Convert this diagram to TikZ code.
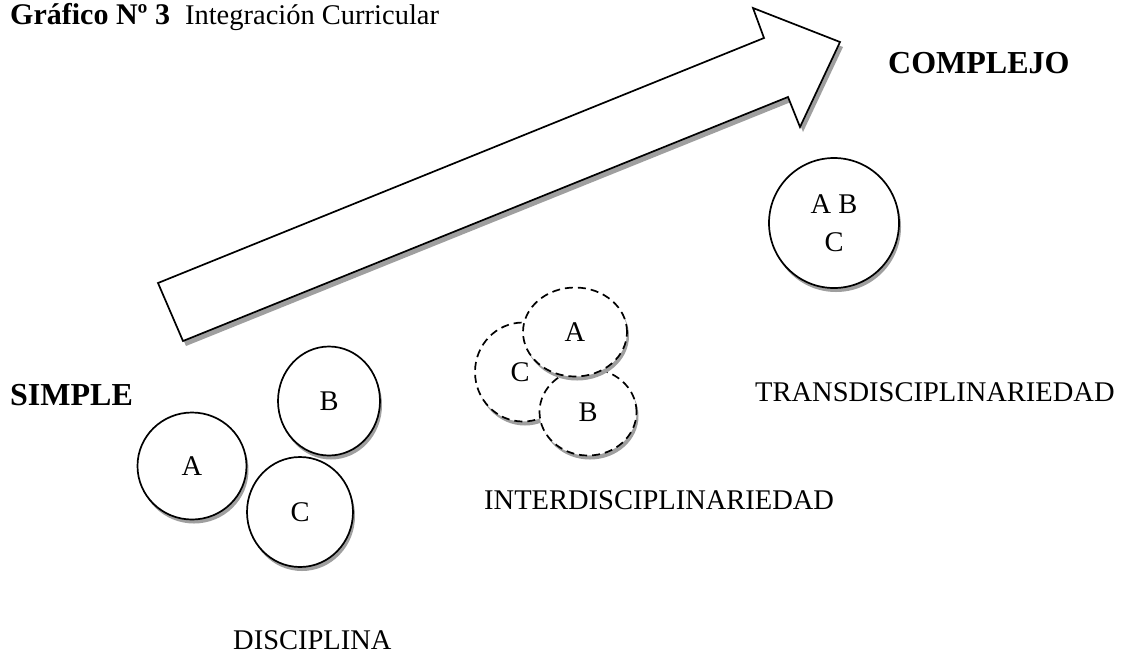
\documentclass[tikz,border=0pt]{standalone}
\usepackage{fontspec}
\setmainfont{Liberation Serif}
\usetikzlibrary{shapes.geometric,shadows}
\tikzset{
disc/.style={draw,ellipse,line width=1.7pt,fill=white,inner sep=0pt,font=\fontsize{28.5}{38}\selectfont,align=center,
  drop shadow={shadow xshift=2pt,shadow yshift=-4pt,fill=gray!75,opacity=1}},
idisc/.style={disc,dashed,dash pattern=on 8pt off 5pt},
lbl/.style={inner sep=0pt,font=\fontsize{28.5}{34}\selectfont},
blbl/.style={inner sep=0pt,font=\fontsize{32}{36}\selectfont\bfseries},
bigarrow/.style={draw,line width=1.7pt,fill=white,line join=miter,
  drop shadow={shadow xshift=3pt,shadow yshift=-5pt,fill=gray!75,opacity=1}}
}
\begin{document}
\begin{tikzpicture}[x=1pt,y=-1pt]
\useasboundingbox (0,0) rectangle (1134,657);
\clip (0,0) rectangle (1134,657);
% titulo
\node[inner sep=0pt,anchor=base west,font=\fontsize{28.5}{34}\selectfont](title) at (10,24)
  {\fontsize{30}{34}\selectfont\bfseries Gráfico Nº 3\ \ \mdseries\fontsize{28.5}{34}\selectfont Integración Curricular};
% flecha
\path[bigarrow] (158,283) -- (764,38) -- (753,8) -- (840,42) -- (800,127) -- (788,97) -- (183,341) -- cycle;
\node[blbl,anchor=west](simple) at (10,395) {SIMPLE};
\node[blbl,anchor=west](complejo) at (888,63) {COMPLEJO};
% disciplina
\node[disc,minimum width=109pt,minimum height=107pt](dA) at (192,466) {A};
\node[disc,minimum width=102pt,minimum height=109pt](dB) at (329,401) {B};
\node[disc,minimum width=106pt,minimum height=110pt](dC) at (300,512) {C};
\node[lbl,anchor=west](disciplina) at (233,640) {DISCIPLINA};
% interdisciplinariedad
\node[idisc,minimum width=96pt,minimum height=99pt](iC) at (523,372) {\hspace*{-6pt}C};
\node[idisc,minimum width=97pt,minimum height=87pt](iB) at (588,412) {B};
\node[idisc,minimum width=104pt,minimum height=89pt](iA) at (575,332) {A};
\node[lbl,anchor=west](inter) at (484,500) {INTERDISCIPLINARIEDAD};
% transdisciplinariedad
\node[disc,minimum width=130pt,minimum height=130pt](tABC) at (834,223) {A B\\C};
\node[lbl,anchor=west](trans) at (755,392) {TRANSDISCIPLINARIEDAD};
\end{tikzpicture}
\end{document}
